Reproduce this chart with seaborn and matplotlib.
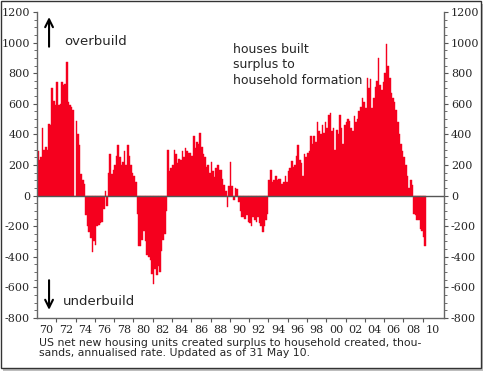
import numpy as np
import pandas as pd
import matplotlib
matplotlib.use("Agg")
import matplotlib.pyplot as plt
from matplotlib.patches import Rectangle
import seaborn as sns

# ---------------- Data (bi-monthly, thousands, annualised) ----------------
# net new housing units built surplus to household formation, Jan 1969 onwards
start_year = 1969
vals_69_78 = [
    290, 230, 250, 440, 300, 320,      # 1969
    300, 470, 460, 700, 620, 590,      # 1970
    740, 590, 600, 740, 720, 730,      # 1971
    870, 610, 590, 580, 560, 0,        # 1972
    490, 400, 330, 140, 105, 75,       # 1973
    -130, -200, -240, -280, -370, -300,  # 1974
    -320, -200, -190, -180, -170, -90,   # 1975
    30, -70, 150, 270, 140, 170,       # 1976
    200, 260, 330, 250, 200, 220,      # 1977
    290, 200, 330, 260, 200, 150,      # 1978
]
vals_79_88 = [
    130, 90, -120, -330, -330, -290,     # 1979
    -230, -300, -390, -400, -420, -510,  # 1980
    -580, -480, -520, -460, -500, -360,  # 1981
    -290, -250, -100, 300, 160, 180,     # 1982
    200, 300, 270, 210, 240, 230,      # 1983
    290, 250, 310, 290, 280, 280,      # 1984
    260, 390, 310, 350, 340, 410,      # 1985
    320, 270, 250, 190, 200, 150,      # 1986
    220, 160, 120, 180, 200, 170,      # 1987
    170, 110, 70, 30, -75, 60,         # 1988
]
vals_89_98 = [
    220, 60, -30, 50, 45, -40,           # 1989
    -100, -140, -140, -155, -130, -170,  # 1990
    -180, -200, -140, -160, -170, -140,  # 1991
    -180, -200, -240, -200, -160, -120,  # 1992
    100, 170, 90, 100, 130, 100,       # 1993
    110, 110, 75, 90, 130, 90,         # 1994
    160, 180, 225, 190, 200, 260,      # 1995
    330, 230, 210, 130, 270, 250,      # 1996
    280, 290, 390, 340, 390, 350,      # 1997
    480, 420, 400, 460, 410, 480,      # 1998
]
vals_99_09 = [
    440, 530, 540, 420, 440, 300,      # 1999
    430, 400, 530, 440, 340, 460,      # 2000
    480, 500, 490, 440, 420, 520,      # 2001
    480, 500, 550, 580, 640, 610,      # 2002
    570, 770, 700, 760, 570, 640,      # 2003
    710, 750, 900, 720, 690, 740,      # 2004
    800, 990, 850, 770, 670, 640,      # 2005
    610, 560, 480, 400, 340, 290,      # 2006
    250, 200, 130, 50, 100, 70,        # 2007
    -120, -130, -160, -160, -220, -230,  # 2008
    -270, -330,                        # 2009
]

year_labels = ["70", "72", "74", "76", "78", "80", "82", "84", "86", "88", "90",
               "92", "94", "96", "98", "00", "02", "04", "06", "08", "10"]
y_ticks = [-800, -600, -400, -200, 0, 200, 400, 600, 800, 1000, 1200]

surplus = vals_69_78 + vals_79_88 + vals_89_98 + vals_99_09
df = pd.DataFrame({"value": surplus})
df["year"] = start_year + (np.arange(len(df)) + 0.5) / 6

# ---------------- Plot ----------------
RED = "#f5001e"
sns.set_style("ticks")
fig = plt.figure(figsize=(4.83, 3.71), dpi=100)
ax = fig.add_axes([37 / 483, 1 - 318 / 371, 407 / 483, 306 / 371])

sns.barplot(data=df, x="year", y="value", native_scale=True, width=1,
            color=RED, saturation=1, errorbar=None,
            edgecolor=RED, linewidth=0.3, ax=ax)

ax.axhline(0, color="#555555", lw=1.0, zorder=3)
ax.set_xlim(1969, 2011.2)
ax.set_ylim(-800, 1200)
ax.set_xlabel("")
ax.set_ylabel("")

# x axis: labels on even years, small ticks on odd years
ax.set_xticks([1970 + 2 * i for i in range(len(year_labels))])
ax.set_xticklabels(year_labels, family="DejaVu Serif", fontsize=8)
ax.set_xticks([1971 + 2 * i for i in range(20)], minor=True)
ax.tick_params(axis="x", which="major", length=0, pad=5)
ax.tick_params(axis="x", which="minor", length=3, width=0.8, color="#555555", direction="out")

# y axis on both sides
ax.set_yticks(y_ticks)
ax.set_yticklabels([str(v) for v in y_ticks], family="DejaVu Serif", fontsize=8)
ax.set_yticks(np.arange(-800, 1201, 50), minor=True)
ax.tick_params(axis="y", which="both", left=True, right=True, labelleft=True,
               labelright=True, direction="out", color="#555555")
ax.tick_params(axis="y", which="major", length=3, width=0.8, pad=2)
ax.tick_params(axis="y", which="minor", length=2, width=0.6)
for lbl in ax.get_yticklabels(which="major"):
    lbl.set_family("DejaVu Serif")

for side in ["left", "right", "bottom"]:
    ax.spines[side].set_color("#666666")
    ax.spines[side].set_linewidth(1.0)
ax.spines["top"].set_visible(False)

# annotations
ax.annotate("", xy=(1970.25, 1185), xytext=(1970.25, 955),
            arrowprops=dict(arrowstyle="->", lw=1.5, color="black", mutation_scale=14))
ax.text(1971.85, 1010, "overbuild", fontsize=9.5, va="center", ha="left")
ax.annotate("", xy=(1970.25, -765), xytext=(1970.25, -535),
            arrowprops=dict(arrowstyle="->", lw=1.5, color="black", mutation_scale=14))
ax.text(1971.7, -690, "underbuild", fontsize=9.5, va="center", ha="left")
ax.text(1989.3, 1000, "houses built\nsurplus to\nhousehold formation",
        fontsize=9, va="top", ha="left", linespacing=1.25)

fig.text(39 / 483, 1 - 338 / 371,
         "US net new housing units created surplus to household created, thou-\n"
         "sands, annualised rate. Updated as of 31 May 10.",
         fontsize=7.8, va="top", ha="left", linespacing=1.0)

# screenshot frame with drop shadow
fig.patches.append(Rectangle((3 / 483, 0), 480 / 483, 1 - 4 / 371, transform=fig.transFigure,
                             facecolor="#bdbdbd", edgecolor="none", zorder=-2))
fig.patches.append(Rectangle((0.5 / 483, 3 / 371), 480 / 483, 1 - 3.5 / 371, transform=fig.transFigure,
                             facecolor="white", edgecolor="#333333", lw=1.0, zorder=-1))

fig.savefig("out.png", dpi=100)
